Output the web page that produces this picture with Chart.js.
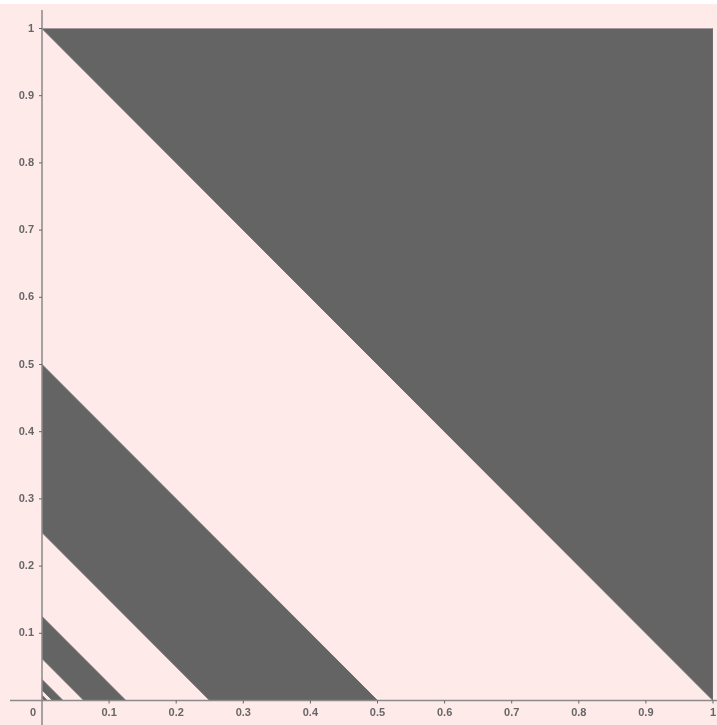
<!DOCTYPE html>
<html>
<head>
<meta charset="utf-8">
<script src="https://cdn.jsdelivr.net/npm/chart.js@4/dist/chart.umd.min.js"></script>
<style>
body{margin:0;background:#fff;}
canvas{display:block;}
</style>
</head>
<body>
<canvas id="c" width="717" height="725"></canvas>
<script>
// dark bands: x+y between lower and upper edge
var bandLower = [1, 0.25, 0.0625, 0.015625, 0.00390625];
var bandUpper = [2, 0.5, 0.125, 0.03125, 0.0078125];
var xTicks = [0.1,0.2,0.3,0.4,0.5,0.6,0.7,0.8,0.9,1];
var yTicks = [0.1,0.2,0.3,0.4,0.5,0.6,0.7,0.8,0.9,1];
var fillCol = '#646464';
var bgCol = '#ffeaea';

var sets = [];
for (let i = 0; i < bandLower.length; i++) {
  let a = bandLower[i], b = bandUpper[i], pts;
  if (a >= 1) {
    pts = [{x:0,y:1},{x:1,y:1},{x:1,y:0},{x:0,y:1}];
  } else {
    pts = [{x:0,y:b},{x:b,y:0},{x:a,y:0},{x:0,y:a},{x:0,y:b}];
  }
  sets.push({
    data: pts,
    showLine: true,
    fill: 'shape',
    backgroundColor: fillCol,
    borderColor: '#6e6e6e',
    borderWidth: 1,
    pointRadius: 0,
    tension: 0
  });
}

var axesPlugin = {
  id: 'axesPlugin',
  beforeDraw: function(chart){
    var ctx = chart.ctx;
    ctx.save();
    ctx.fillStyle = bgCol;
    ctx.fillRect(0, 4, chart.width, chart.height - 4);
    ctx.restore();
  },
  afterDatasetsDraw: function(chart){
    var ctx = chart.ctx, xs = chart.scales.x, ys = chart.scales.y;
    var x0 = xs.getPixelForValue(0), y0 = ys.getPixelForValue(0);
    ctx.save();
    ctx.strokeStyle = '#8a8a8a';
    ctx.lineWidth = 1.5;
    ctx.beginPath();
    ctx.moveTo(10, y0); ctx.lineTo(chart.width, y0);
    ctx.moveTo(x0, 10); ctx.lineTo(x0, chart.height);
    ctx.stroke();
    ctx.lineWidth = 1;
    ctx.strokeStyle = '#666';
    ctx.fillStyle = '#666';
    ctx.font = 'bold 11px "Liberation Sans", Arial, sans-serif';
    ctx.textBaseline = 'middle';
    ctx.textAlign = 'center';
    xTicks.forEach(function(v){
      var px = xs.getPixelForValue(v);
      ctx.beginPath(); ctx.moveTo(px, y0); ctx.lineTo(px, y0 + 3); ctx.stroke();
      ctx.fillText(String(v), px, y0 + 12);
    });
    ctx.fillText('0', x0 - 9, y0 + 12);
    ctx.textAlign = 'right';
    yTicks.forEach(function(v){
      var py = ys.getPixelForValue(v);
      ctx.beginPath(); ctx.moveTo(x0 - 3, py); ctx.lineTo(x0, py); ctx.stroke();
      ctx.fillText(String(v), x0 - 8, py);
    });
    ctx.restore();
  }
};

new Chart(document.getElementById('c'), {
  type: 'scatter',
  data: { datasets: sets },
  options: {
    responsive: false,
    animation: false,
    layout: { padding: { left: 42, right: 4, top: 28.5, bottom: 24.5 } },
    plugins: { legend: { display: false }, tooltip: { enabled: false } },
    scales: {
      x: { type: 'linear', min: 0, max: 1, display: false },
      y: { type: 'linear', min: 0, max: 1, display: false }
    }
  },
  plugins: [axesPlugin]
});
</script>
</body>
</html>
